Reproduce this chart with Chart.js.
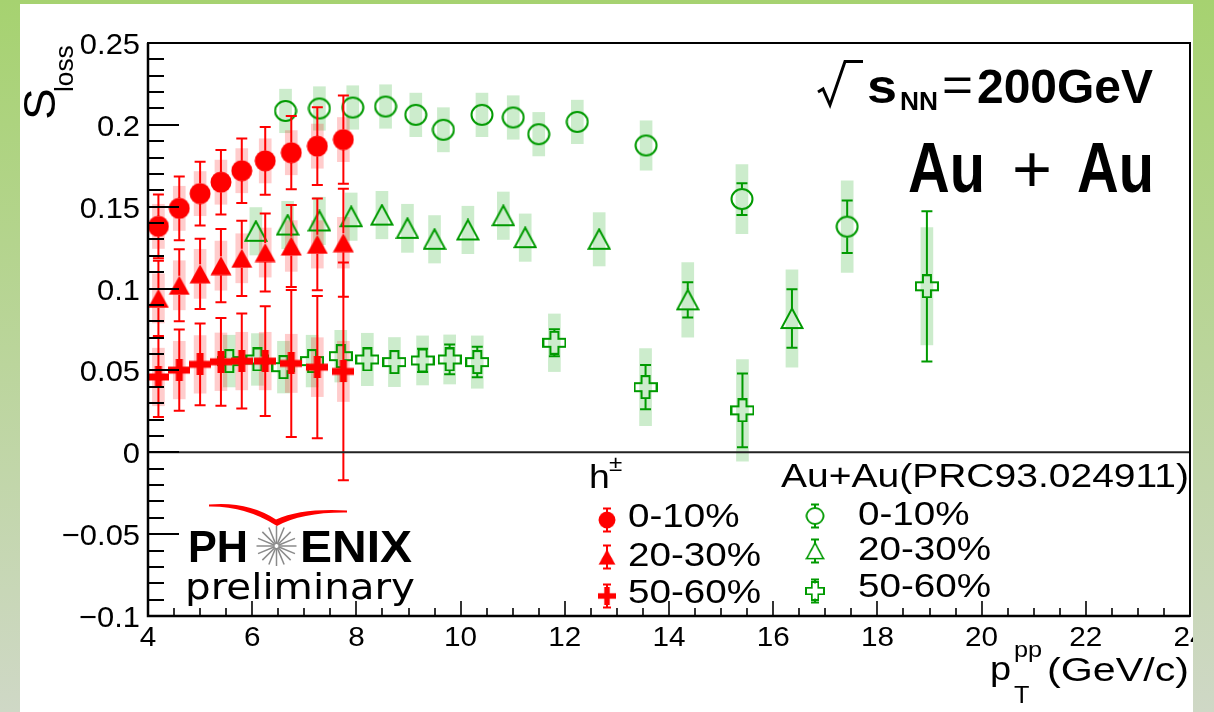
<!DOCTYPE html>
<html>
<head>
<meta charset="utf-8">
<script src="https://cdn.jsdelivr.net/npm/chart.js@4.4.1/dist/chart.umd.min.js"></script>
<style>
  html, body { margin: 0; padding: 0; background: #fff; }
  #wrap { width: 1214px; height: 712px; }
</style>
</head>
<body>
<div id="wrap"><canvas id="c" width="1214" height="712"></canvas></div>
<script>
// ── h± (PHENIX preliminary) ─────────────────────────────────────
const ptH = [4.2, 4.6, 5.0, 5.4, 5.8, 6.25, 6.75, 7.25, 7.75];
const h010 = [0.138, 0.149, 0.158, 0.165, 0.172, 0.178, 0.183, 0.187, 0.191];
const h010Stat = [0.0195, 0.0195, 0.0195, 0.0197, 0.0197, 0.0207, 0.0224, 0.0238, 0.027];
const h010Sys = [0.0135, 0.0135, 0.0135, 0.0135, 0.0135, 0.0135, 0.0135, 0.0135, 0.0135];
const h2030 = [0.094, 0.102, 0.109, 0.114, 0.1185, 0.122, 0.126, 0.127, 0.128];
const h2030Stat = [0.023, 0.022, 0.0215, 0.0224, 0.023, 0.0238, 0.025, 0.028, 0.033];
const h2030Sys = [0.015, 0.015, 0.015, 0.015, 0.015, 0.015, 0.0155, 0.0145, 0.0155];
const h5060 = [0.046, 0.0502, 0.0537, 0.0553, 0.0557, 0.0557, 0.0543, 0.052, 0.0494];
const h5060Stat = [0.0245, 0.0248, 0.025, 0.0268, 0.029, 0.0335, 0.0449, 0.0435, 0.0665];
const h5060Sys = [0.0176, 0.0176, 0.0176, 0.0176, 0.0176, 0.0176, 0.0178, 0.018, 0.0184];

// ── Au+Au (PRC93.024911) ────────────────────────────────────────
const ptA010 = [6.64, 7.29, 7.93, 8.56, 9.14, 9.67, 10.41, 11.01, 11.5, 12.24, 13.56, 15.4, 17.42];
const a010 = [0.2085, 0.21, 0.2106, 0.2112, 0.2061, 0.197, 0.2061, 0.2045, 0.1943, 0.2018, 0.1874, 0.1547, 0.1378];
const a010Stat = [0.002, 0.002, 0.002, 0.002, 0.002, 0.002, 0.002, 0.003, 0.003, 0.003, 0.004, 0.0097, 0.016];
const a010Sys = [0.0133, 0.0133, 0.0133, 0.0133, 0.0133, 0.0135, 0.0133, 0.0133, 0.0133, 0.0133, 0.0151, 0.0211, 0.028];
const ptA2030 = [6.07, 6.68, 7.29, 7.9, 8.49, 8.98, 9.5, 10.14, 10.82, 11.24, 12.66, 14.36, 16.36];
const a2030 = [0.135, 0.1388, 0.1413, 0.1439, 0.1449, 0.1368, 0.1301, 0.1358, 0.1445, 0.1311, 0.1301, 0.0931, 0.0817];
const a2030Stat = [0.003, 0.003, 0.003, 0.003, 0.003, 0.003, 0.003, 0.003, 0.003, 0.004, 0.004, 0.0108, 0.0179];
const a2030Sys = [0.0145, 0.0145, 0.0145, 0.0145, 0.0145, 0.0147, 0.0145, 0.0145, 0.0145, 0.0145, 0.0163, 0.0228, 0.0297];
const ptA5060 = [5.56, 6.1, 6.6, 7.15, 7.7, 8.21, 8.73, 9.27, 9.79, 10.32, 11.8, 13.55, 15.41, 18.95];
const a5060 = [0.0557, 0.0567, 0.052, 0.0557, 0.0587, 0.0567, 0.0551, 0.0561, 0.0567, 0.0551, 0.0669, 0.0398, 0.0256, 0.1014];
const a5060Stat = [0.004, 0.004, 0.004, 0.004, 0.004, 0.004, 0.004, 0.0071, 0.0091, 0.0093, 0.0083, 0.0135, 0.0225, 0.0459];
const a5060Sys = [0.0158, 0.0158, 0.0158, 0.0158, 0.0158, 0.016, 0.015, 0.015, 0.015, 0.016, 0.0176, 0.0236, 0.031, 0.0358];

// ── axis ticks ──────────────────────────────────────────────────
const xTickVals = [4, 6, 8, 10, 12, 14, 16, 18, 20, 22, 24];
const yTickVals = [-0.1, -0.05, 0, 0.05, 0.1, 0.15, 0.2, 0.25];
const yTickLabels = ['\u22120.1', '\u22120.05', '0', '0.05', '0.1', '0.15', '0.2', '0.25'];

const RED = '#ff0000', GREEN = '#009a00';
const PINK_BOX = 'rgba(255,0,0,0.2)', GREEN_BOX = 'rgba(0,160,0,0.2)';

// ── marker images ───────────────────────────────────────────────
const mk = (w, h, draw) => { const c = document.createElement('canvas'); c.width = w; c.height = h; draw(c.getContext('2d')); return c; };
const redCircle = mk(22, 22, g => { g.fillStyle = RED; g.beginPath(); g.arc(11, 11, 10.5, 0, Math.PI * 2); g.fill(); });
const redTri = mk(22, 20, g => { g.fillStyle = RED; g.beginPath(); g.moveTo(11, 0.5); g.lineTo(21.5, 19.5); g.lineTo(0.5, 19.5); g.closePath(); g.fill(); });
const redCross = mk(22, 22, g => { g.fillStyle = RED; g.fillRect(0, 7.5, 22, 7); g.fillRect(7.5, 0, 7, 22); });
const grCircle = mk(24, 24, g => { g.strokeStyle = GREEN; g.lineWidth = 2; g.beginPath(); g.ellipse(12, 12, 10.5, 10, 0, 0, Math.PI * 2); g.stroke(); });
const grTri = mk(24, 23, g => { g.strokeStyle = GREEN; g.lineWidth = 2; g.beginPath(); g.moveTo(12, 1.5); g.lineTo(22.5, 21); g.lineTo(1.5, 21); g.closePath(); g.stroke(); });
const grCross = mk(24, 24, g => {
  g.strokeStyle = GREEN; g.lineWidth = 2; g.beginPath();
  [[8, 1], [16, 1], [16, 8], [23, 8], [23, 16], [16, 16], [16, 23], [8, 23], [8, 16], [1, 16], [1, 8], [8, 8]].forEach(([a, b], i) => i ? g.lineTo(a, b) : g.moveTo(a, b));
  g.closePath(); g.stroke();
});

const mkSys = (label, xs, ys, sys, color) => ({
  type: 'bar', label, order: 2,
  data: xs.map((x, i) => ({ x, y: [ys[i] - sys[i], ys[i] + sys[i]] })),
  backgroundColor: color, borderWidth: 0, barThickness: 12, grouped: false
});
const mkPts = (label, xs, ys, err, img, color, gap) => ({
  type: 'scatter', label, order: 1, showLine: false,
  data: xs.map((x, i) => ({ x, y: ys[i] })),
  pointStyle: img, pointRadius: 11, pointHoverRadius: 11,
  err, errColor: color, gap
});

// ── text helper ─────────────────────────────────────────────────
const txt = (ctx, s, x, y, size, o = {}) => {
  ctx.save();
  ctx.font = `${o.bold ? 'bold ' : ''}${size}px "${o.family || 'Liberation Sans'}"`;
  ctx.fillStyle = o.color || '#000';
  ctx.textBaseline = 'alphabetic';
  const m = ctx.measureText(s).width;
  const sx = o.w ? o.w / m : (o.sx || 1);
  const width = m * sx;
  const x0 = o.align === 'right' ? x - width : o.align === 'center' ? x - width / 2 : x;
  ctx.translate(x0, y); ctx.scale(sx, 1);
  ctx.fillText(s, 0, 0);
  ctx.restore();
  return width;
};

const bgGrad = ctx => { const g = ctx.createLinearGradient(0, 0, 0, 712); g.addColorStop(0, '#a6d270'); g.addColorStop(1, '#cfd8c6'); return g; };

// ── plugins ─────────────────────────────────────────────────────
const background = {
  id: 'background',
  beforeDraw(chart) {
    const { ctx } = chart;
    ctx.save();
    ctx.fillStyle = bgGrad(ctx); ctx.fillRect(0, 0, 1214, 712);
    ctx.fillStyle = '#fff'; ctx.fillRect(20, 4, 1173, 708);
    ctx.restore();
  }
};

const errBars = {
  id: 'errBars',
  beforeDatasetDraw(chart, args) {
    const ds = chart.data.datasets[args.index];
    if (!ds.err) return;
    const { ctx, scales: { x, y } } = chart;
    ctx.save();
    ctx.strokeStyle = ds.errColor; ctx.lineWidth = 2;
    ds.data.forEach((p, i) => {
      const px = x.getPixelForValue(p.x), py = y.getPixelForValue(p.y);
      const ends = [y.getPixelForValue(p.y + ds.err[i]), y.getPixelForValue(p.y - ds.err[i])];
      ends.forEach((end, k) => {
        const s = k ? 1 : -1;
        if (Math.abs(end - py) <= ds.gap) return;
        ctx.beginPath();
        ctx.moveTo(px, py + s * ds.gap); ctx.lineTo(px, end);
        ctx.moveTo(px - 5.5, end); ctx.lineTo(px + 5.5, end);
        ctx.stroke();
      });
    });
    ctx.restore();
  }
};

const frame = {
  id: 'frame',
  afterDraw(chart) {
    const { ctx, chartArea: a, scales: { x, y } } = chart;
    ctx.save();
    ctx.strokeStyle = '#000';
    // zero line
    ctx.lineWidth = 2; ctx.strokeStyle = '#222';
    ctx.beginPath(); ctx.moveTo(a.left, y.getPixelForValue(0)); ctx.lineTo(a.right, y.getPixelForValue(0)); ctx.stroke();
    ctx.strokeStyle = '#000';
    // y ticks
    for (let k = -10; k <= 25; k++) {
      const py = Math.round(y.getPixelForValue(k / 100));
      const len = k % 5 === 0 ? 31 : 16;
      ctx.beginPath(); ctx.moveTo(a.left, py); ctx.lineTo(a.left + len, py); ctx.stroke();
    }
    // x ticks
    ctx.lineWidth = 1.6;
    for (let k = 8; k <= 48; k++) {
      const px = Math.round(x.getPixelForValue(k / 2));
      const len = k % 4 === 0 ? 15 : 8;
      ctx.beginPath(); ctx.moveTo(px, a.bottom); ctx.lineTo(px, a.bottom - len); ctx.stroke();
    }
    // frame
    ctx.lineWidth = 2;
    ctx.strokeRect(a.left, a.top, a.right - a.left, a.bottom - a.top);
    ctx.lineWidth = 2.5;
    ctx.beginPath(); ctx.moveTo(a.left, a.top); ctx.lineTo(a.left, a.bottom); ctx.lineTo(a.right, a.bottom); ctx.stroke();

    // tick labels
    yTickVals.forEach((v, i) => txt(ctx, yTickLabels[i], 140, y.getPixelForValue(v) + 11, 30, { align: 'right', sx: 1.03 }));
    xTickVals.forEach(v => txt(ctx, String(v), x.getPixelForValue(v), 646, 27, { align: 'center', sx: 1.1 }));

    // y title
    ctx.save();
    ctx.translate(55, 120); ctx.rotate(-Math.PI / 2);
    txt(ctx, 'S', 0, 0, 44, { sx: 1.08 });
    txt(ctx, 'loss', 28, 18, 25, { sx: 1.05 });
    ctx.restore();

    // x title
    txt(ctx, 'p', 990, 680, 33, { sx: 1.15 });
    txt(ctx, 'pp', 1014, 657, 22, { sx: 1.15 });
    txt(ctx, 'T', 1014, 703, 23, { sx: 1.1 });
    txt(ctx, '(GeV/c)', 1047, 681, 33, { w: 142 });

    // √s_NN = 200GeV
    ctx.lineWidth = 3; ctx.lineJoin = 'miter';
    ctx.beginPath(); ctx.moveTo(818, 92); ctx.lineTo(823, 89); ctx.lineTo(830, 105); ctx.lineTo(845, 61.5); ctx.lineTo(863, 61.5); ctx.stroke();
    txt(ctx, 's', 867, 103, 48, { bold: true, w: 30 });
    txt(ctx, 'NN', 900, 110, 26, { bold: true, w: 38 });
    txt(ctx, '=', 942, 101, 48, { w: 31 });
    txt(ctx, '200GeV', 977, 103, 48, { bold: true, w: 176 });
    // Au + Au
    txt(ctx, 'Au', 908, 192, 70, { bold: true, w: 77 });
    txt(ctx, '+', 1012, 192, 66, { w: 40 });
    txt(ctx, 'Au', 1077, 192, 70, { bold: true, w: 77 });

    // legend
    txt(ctx, 'h', 589, 488, 34, { sx: 1.1 });
    txt(ctx, '\u00b1', 609, 471, 22, { sx: 1.1 });
    txt(ctx, 'Au+Au(PRC93.024911)', 781, 487, 33, { w: 408 });
    const legRows = [
      [607, 520, redCircle, RED, '0-10%', 628, 527],
      [607, 557, redTri, RED, '20-30%', 628, 566],
      [607, 596, redCross, RED, '50-60%', 628, 603],
      [815, 516, grCircle, GREEN, '0-10%', 858, 525],
      [815, 551, grTri, GREEN, '20-30%', 858, 560],
      [815, 591, grCross, GREEN, '50-60%', 858, 597]
    ];
    legRows.forEach(([mx, my, img, col, label, tx, ty]) => {
      ctx.strokeStyle = col; ctx.lineWidth = 2;
      ctx.beginPath();
      ctx.moveTo(mx, my - 11.5); ctx.lineTo(mx, my + 11.5);
      ctx.moveTo(mx - 4, my - 11.5); ctx.lineTo(mx + 4, my - 11.5);
      ctx.moveTo(mx - 4, my + 11.5); ctx.lineTo(mx + 4, my + 11.5);
      ctx.stroke();
      const w = img.width * 0.8, h = img.height * 0.8;
      if (col === GREEN) { ctx.fillStyle = '#fff'; ctx.fillRect(mx - w / 2 + 2, my - h / 2 + 2, w - 4, h - 4); }
      ctx.drawImage(img, mx - w / 2, my - h / 2, w, h);
      txt(ctx, label, tx, ty, 33, { sx: 1.17 });
    });

    // PHENIX preliminary logo
    txt(ctx, 'PH', 188, 562, 44, { bold: true, w: 60 });
    txt(ctx, 'ENIX', 300, 562, 44, { bold: true, w: 112 });
    ctx.strokeStyle = '#8a8a8a'; ctx.lineWidth = 1.5;
    for (let i = 0; i < 16; i++) {
      const t = i * Math.PI / 8;
      ctx.beginPath();
      ctx.moveTo(276.5 + Math.cos(t) * 2, 546 + Math.sin(t) * 2);
      ctx.lineTo(276.5 + Math.cos(t) * 20, 546 + Math.sin(t) * 20);
      ctx.stroke();
    }
    ctx.fillStyle = RED;
    ctx.beginPath();
    ctx.moveTo(209, 504.5);
    ctx.quadraticCurveTo(248, 501, 276, 519.5);
    ctx.quadraticCurveTo(302, 508, 347, 510.5);
    ctx.lineTo(347, 512.5);
    ctx.quadraticCurveTo(302, 512, 277, 526);
    ctx.quadraticCurveTo(246, 506, 209, 506.5);
    ctx.closePath(); ctx.fill();
    txt(ctx, 'preliminary', 185, 599, 36, { family: 'DejaVu Sans', w: 230 });

    // right border strip clips the last tick label
    ctx.fillStyle = bgGrad(ctx); ctx.fillRect(1193, 0, 21, 712);
    ctx.restore();
  }
};

new Chart(document.getElementById('c'), {
  type: 'scatter',
  data: {
    datasets: [
      mkPts('h± 0-10%', ptH, h010, h010Stat, redCircle, RED, 10),
      mkPts('h± 20-30%', ptH, h2030, h2030Stat, redTri, RED, 9.5),
      mkPts('h± 50-60%', ptH, h5060, h5060Stat, redCross, RED, 10.5),
      mkPts('Au+Au 0-10%', ptA010, a010, a010Stat, grCircle, GREEN, 10.5),
      mkPts('Au+Au 20-30%', ptA2030, a2030, a2030Stat, grTri, GREEN, 10),
      mkPts('Au+Au 50-60%', ptA5060, a5060, a5060Stat, grCross, GREEN, 11),
      mkSys('h± 0-10% sys', ptH, h010, h010Sys, PINK_BOX),
      mkSys('h± 20-30% sys', ptH, h2030, h2030Sys, PINK_BOX),
      mkSys('h± 50-60% sys', ptH, h5060, h5060Sys, PINK_BOX),
      mkSys('Au+Au 0-10% sys', ptA010, a010, a010Sys, GREEN_BOX),
      mkSys('Au+Au 20-30% sys', ptA2030, a2030, a2030Sys, GREEN_BOX),
      mkSys('Au+Au 50-60% sys', ptA5060, a5060, a5060Sys, GREEN_BOX)
    ]
  },
  options: {
    responsive: false,
    animation: false,
    events: [],
    devicePixelRatio: 1,
    layout: { padding: { left: 148, top: 43, right: 24, bottom: 96 } },
    plugins: { legend: { display: false }, tooltip: { enabled: false } },
    scales: {
      x: { type: 'linear', min: 4, max: 24, offset: false, display: false },
      y: { type: 'linear', min: -0.1, max: 0.25, display: false }
    }
  },
  plugins: [background, errBars, frame]
});
</script>
</body>
</html>
